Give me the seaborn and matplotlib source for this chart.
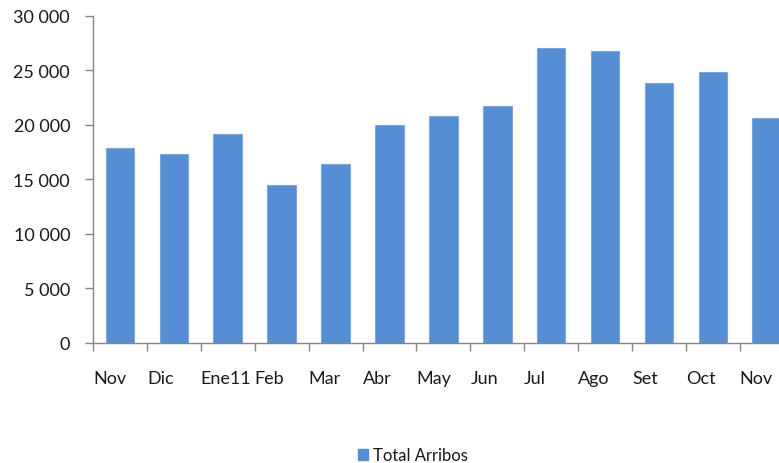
import matplotlib.pyplot as plt
import numpy as np
import pandas as pd
import seaborn as sns
from matplotlib.patches import Patch

# monthly arrivals, Nov 2010 -> Nov 2011
months = ["Nov", "Dic", "Ene11", "Feb", "Mar", "Abr", "May", "Jun",
          "Jul", "Ago", "Set", "Oct", "Nov"]
arribos = [17900, 17300, 19100, 14500, 16400, 19950, 20800, 21700,
           27000, 26800, 23800, 24800, 20600]
y_ticks = [0, 5000, 10000, 15000, 20000, 25000, 30000]

bar_color = "#558ED5"
axis_color = "#868686"
text_color = "#1a1a1a"

sns.set_theme(style="white")
plt.rcParams["font.family"] = ["Lato", "DejaVu Sans"]

df = pd.DataFrame({"idx": np.arange(len(months)), "Total Arribos": arribos})

fig = plt.figure(figsize=(7.79, 4.64), dpi=100)
# plot area runs a bit past the right edge, like the cropped original
ax = fig.add_axes([93 / 779, 1 - 343.5 / 464, 700.7 / 779, 326.8 / 464])

sns.barplot(data=df, x="idx", y="Total Arribos", color=bar_color,
            saturation=1, width=0.53, edgecolor="#7FA7DB", linewidth=0.8, ax=ax)

ax.set_xlim(-0.5, len(months) - 0.5)
ax.set_ylim(0, 30000)
ax.set_xlabel("")
ax.set_ylabel("")

ax.set_yticks(y_ticks)
ax.set_yticklabels([f"{v:,.0f}".replace(",", " ") for v in y_ticks],
                   fontsize=13, color=text_color)
ax.tick_params(axis="y", which="major", direction="out", length=5.5,
               width=1, color=axis_color, pad=11, left=True)

# tick marks sit between categories, labels start at the tick (Excel style)
ax.set_xticks(np.arange(len(months)) - 0.5)
ax.set_xticklabels(months, fontsize=13, color=text_color, ha="left")
ax.tick_params(axis="x", which="major", direction="out", length=5.5,
               width=1, color=axis_color, bottom=True, pad=14)

sns.despine(ax=ax, top=True, right=True)
for side in ["left", "bottom"]:
    ax.spines[side].set_color(axis_color)
    ax.spines[side].set_linewidth(1)

handles = [Patch(facecolor=bar_color, edgecolor=bar_color, label="Total Arribos")]
fig.legend(handles=handles, loc="center", bbox_to_anchor=(413 / 779, 1 - 456 / 464),
           frameon=False, fontsize=12, handlelength=0.65, handleheight=0.65,
           handletextpad=0.3, labelcolor=text_color)

fig.savefig("out.png", dpi=100)
